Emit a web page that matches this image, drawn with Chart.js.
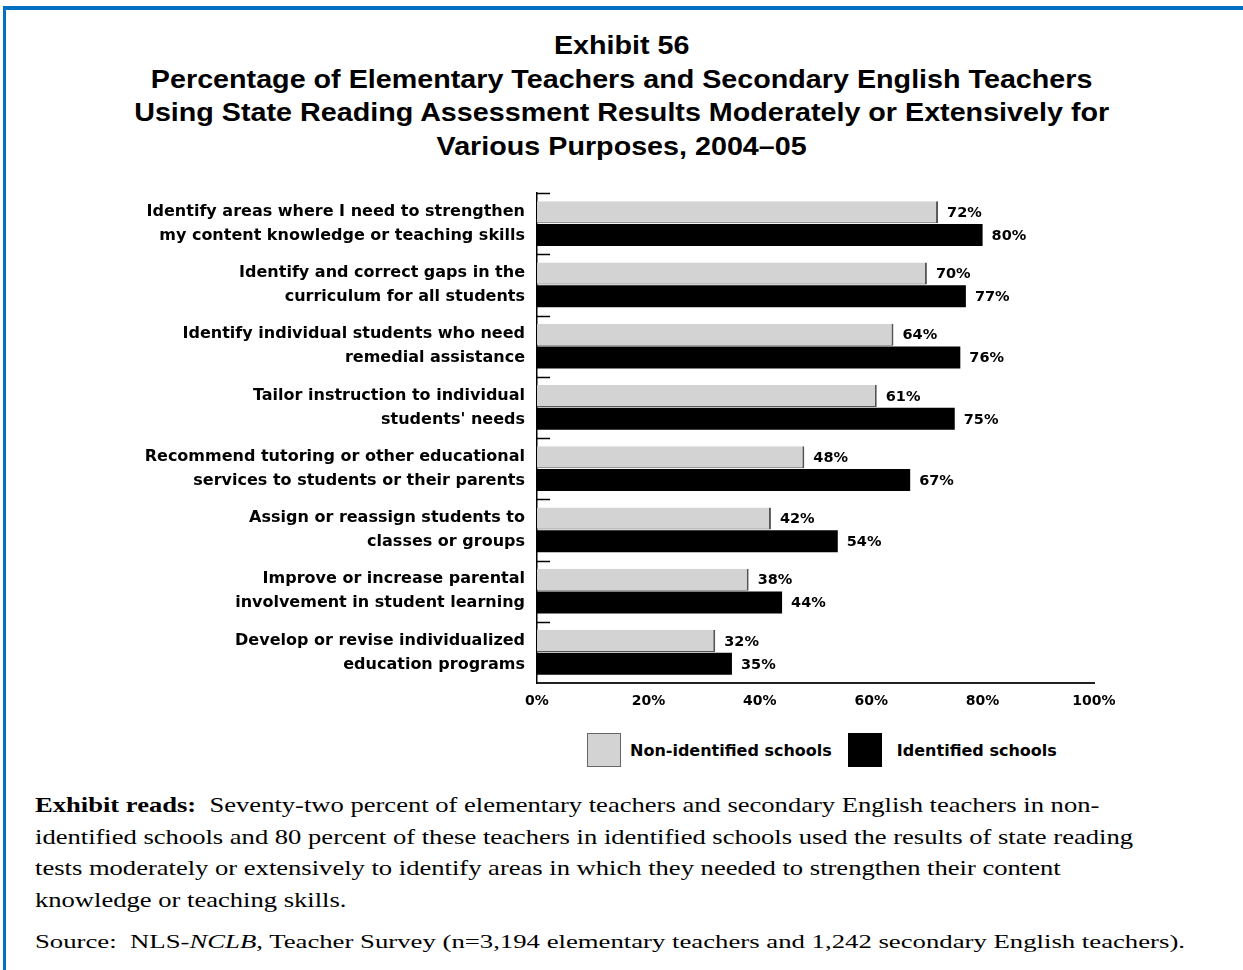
<!DOCTYPE html>
<html>
<head>
<meta charset="utf-8">
<script src="https://cdn.jsdelivr.net/npm/chart.js@4.4.1/dist/chart.umd.min.js"></script>
<style>
  html, body { margin: 0; padding: 0; background: #fff; }
  body { width: 1243px; height: 970px; position: relative; overflow: hidden; }
  #topbar { position: absolute; left: 3px; top: 6px; width: 1240px; height: 4px; background: #0070C0; }
  #leftbar { position: absolute; left: 3px; top: 6px; width: 3px; height: 964px; background: #0070C0; }
  #titlebox { position: absolute; left: 0; top: 29px; width: 1243px; text-align: center; }
  #title { display: inline-block; text-align: center; transform-origin: 50% 50%;
           font-family: "Liberation Sans", Arial, sans-serif; font-weight: bold; font-size: 25px; line-height: 33.5px; color: #000; }
  #chartwrap { position: absolute; left: 0; top: 165px; width: 1243px; height: 560px; }
  #legend { position: absolute; top: 733px; left: 587px; height: 34px; font-family: "DejaVu Sans", sans-serif;
            font-weight: bold; font-size: 16px; color: #000; display: flex; align-items: center; white-space: nowrap; }
  .sw { width: 34px; height: 34px; box-sizing: border-box; display: inline-block; flex: none; }
  .lt { display: inline-block; }
  #reads { position: absolute; left: 35px; top: 790px; display: inline-block; transform-origin: 0 0; white-space: nowrap;
           font-family: "Liberation Serif", "Times New Roman", serif; font-size: 21.5px; line-height: 31.5px; color: #000; }
  #source { position: absolute; left: 35px; top: 931px; display: inline-block; transform-origin: 0 0; white-space: nowrap;
            font-family: "Liberation Serif", "Times New Roman", serif; font-size: 19px; color: #000; }
</style>
</head>
<body>
<div id="topbar"></div>
<div id="leftbar"></div>
<div id="titlebox"><div id="title">Exhibit 56<br>Percentage of Elementary Teachers and Secondary English Teachers<br>Using State Reading Assessment Results Moderately or Extensively for<br>Various Purposes, 2004–05</div></div>
<div id="chartwrap"><canvas id="c" width="1243" height="560"></canvas></div>
<div id="legend"></div>
<div id="reads"><b>Exhibit reads:</b>&nbsp; Seventy-two percent of elementary teachers and secondary English teachers in non-<br>identified schools and 80 percent of these teachers in identified schools used the results of state reading<br>tests moderately or extensively to identify areas in which they needed to strengthen their content<br>knowledge or teaching skills.</div>
<div id="source">Source:&nbsp; NLS-<i>NCLB</i>, Teacher Survey (n=3,194 elementary teachers and 1,242 secondary English teachers).</div>
<script>
const categories = [
  ["Identify areas where I need to strengthen", "my content knowledge or teaching skills"],
  ["Identify and correct gaps in the", "curriculum for all students"],
  ["Identify individual students who need", "remedial assistance"],
  ["Tailor instruction to individual", "students' needs"],
  ["Recommend tutoring or other educational", "services to students or their parents"],
  ["Assign or reassign students to", "classes or groups"],
  ["Improve or increase parental", "involvement in student learning"],
  ["Develop or revise individualized", "education programs"]
];
const seriesNames = ["Non-identified schools", "Identified schools"];
const nonIdentified = [72, 70, 64, 61, 48, 42, 38, 32];
const identified = [80, 77, 76, 75, 67, 54, 44, 35];
const xTicks = [0, 20, 40, 60, 80, 100];

const FONT = '"DejaVu Sans", sans-serif';
const AXIS_LEFT = 537;

// Stretch HTML text horizontally to match the reference's proportions
function fitWidth(id, target) {
  const el = document.getElementById(id);
  const w = el.getBoundingClientRect().width;
  el.style.transform = 'scaleX(' + (target / w) + ')';
}
fitWidth('title', 975);
fitWidth('reads', 1098);
fitWidth('source', 1150);

const valueLabels = {
  id: 'valueLabels',
  afterDatasetsDraw(chart) {
    const ctx = chart.ctx;
    ctx.save();
    ctx.font = 'bold 14.5px ' + FONT;
    ctx.fillStyle = '#000';
    ctx.textBaseline = 'middle';
    ctx.textAlign = 'left';
    chart.data.datasets.forEach((ds, di) => {
      const meta = chart.getDatasetMeta(di);
      meta.data.forEach((bar, i) => {
        ctx.fillText(ds.data[i] + '%', bar.x + 9, bar.y + 1);
      });
    });
    ctx.restore();
  }
};

const innerTicks = {
  id: 'innerTicks',
  afterDraw(chart) {
    const y = chart.scales.y;
    const ctx = chart.ctx;
    const step = y.getPixelForValue(1) - y.getPixelForValue(0);
    ctx.save();
    ctx.strokeStyle = '#000';
    ctx.lineWidth = 1.5;
    for (let i = 0; i < categories.length; i++) {
      const py = Math.round(y.getPixelForValue(i) - step / 2) + 0.5;
      ctx.beginPath();
      ctx.moveTo(y.right, py);
      ctx.lineTo(y.right + 13, py);
      ctx.stroke();
    }
    ctx.restore();
  }
};

new Chart(document.getElementById('c'), {
  type: 'bar',
  data: {
    labels: categories,
    datasets: [
      { label: seriesNames[0], data: nonIdentified, backgroundColor: '#d3d3d3',
        borderColor: '#555', borderWidth: { right: 2, bottom: 1, top: 0, left: 0 }, borderSkipped: false },
      { label: seriesNames[1], data: identified, backgroundColor: '#000', borderWidth: 0 }
    ]
  },
  options: {
    indexAxis: 'y',
    responsive: false,
    animation: false,
    devicePixelRatio: 1,
    layout: { padding: { left: 0, right: 149, top: 28, bottom: 12 } },
    categoryPercentage: 0.745,
    barPercentage: 0.97,
    plugins: { legend: { display: false }, tooltip: { enabled: false } },
    scales: {
      x: {
        min: 0, max: 100,
        afterBuildTicks(scale) { scale.ticks = xTicks.map(v => ({ value: v })); },
        afterFit(scale) { scale.height = 30; },
        grid: { display: false, drawTicks: false },
        border: { display: true, color: '#222', width: 2 },
        ticks: { padding: 10, color: '#000', font: { family: FONT, size: 14, weight: 'bold' },
                 callback: v => v + '%', maxRotation: 0 }
      },
      y: {
        afterFit(scale) { scale.width = AXIS_LEFT; scale.paddingTop = 0; scale.paddingBottom = 0; },
        grid: { display: false, drawTicks: false },
        border: { display: true, color: '#000', width: 1.5 },
        ticks: { padding: 12, color: '#000', font: { family: FONT, size: 16, weight: 'bold', lineHeight: 1.5 } }
      }
    }
  },
  plugins: [valueLabels, innerTicks]
});

const colors = ['#d3d3d3', '#000'];
const legend = document.getElementById('legend');
const gaps = [[9, 16], [15, 0]];
seriesNames.forEach((name, i) => {
  const sw = document.createElement('span');
  sw.className = 'sw';
  sw.style.background = colors[i];
  sw.style.border = i === 0 ? '1.5px solid #666' : '0';
  sw.style.marginRight = gaps[i][0] + 'px';
  const t = document.createElement('span');
  t.className = 'lt';
  t.style.marginRight = gaps[i][1] + 'px';
  t.textContent = name;
  legend.appendChild(sw);
  legend.appendChild(t);
});
</script>
</body>
</html>
